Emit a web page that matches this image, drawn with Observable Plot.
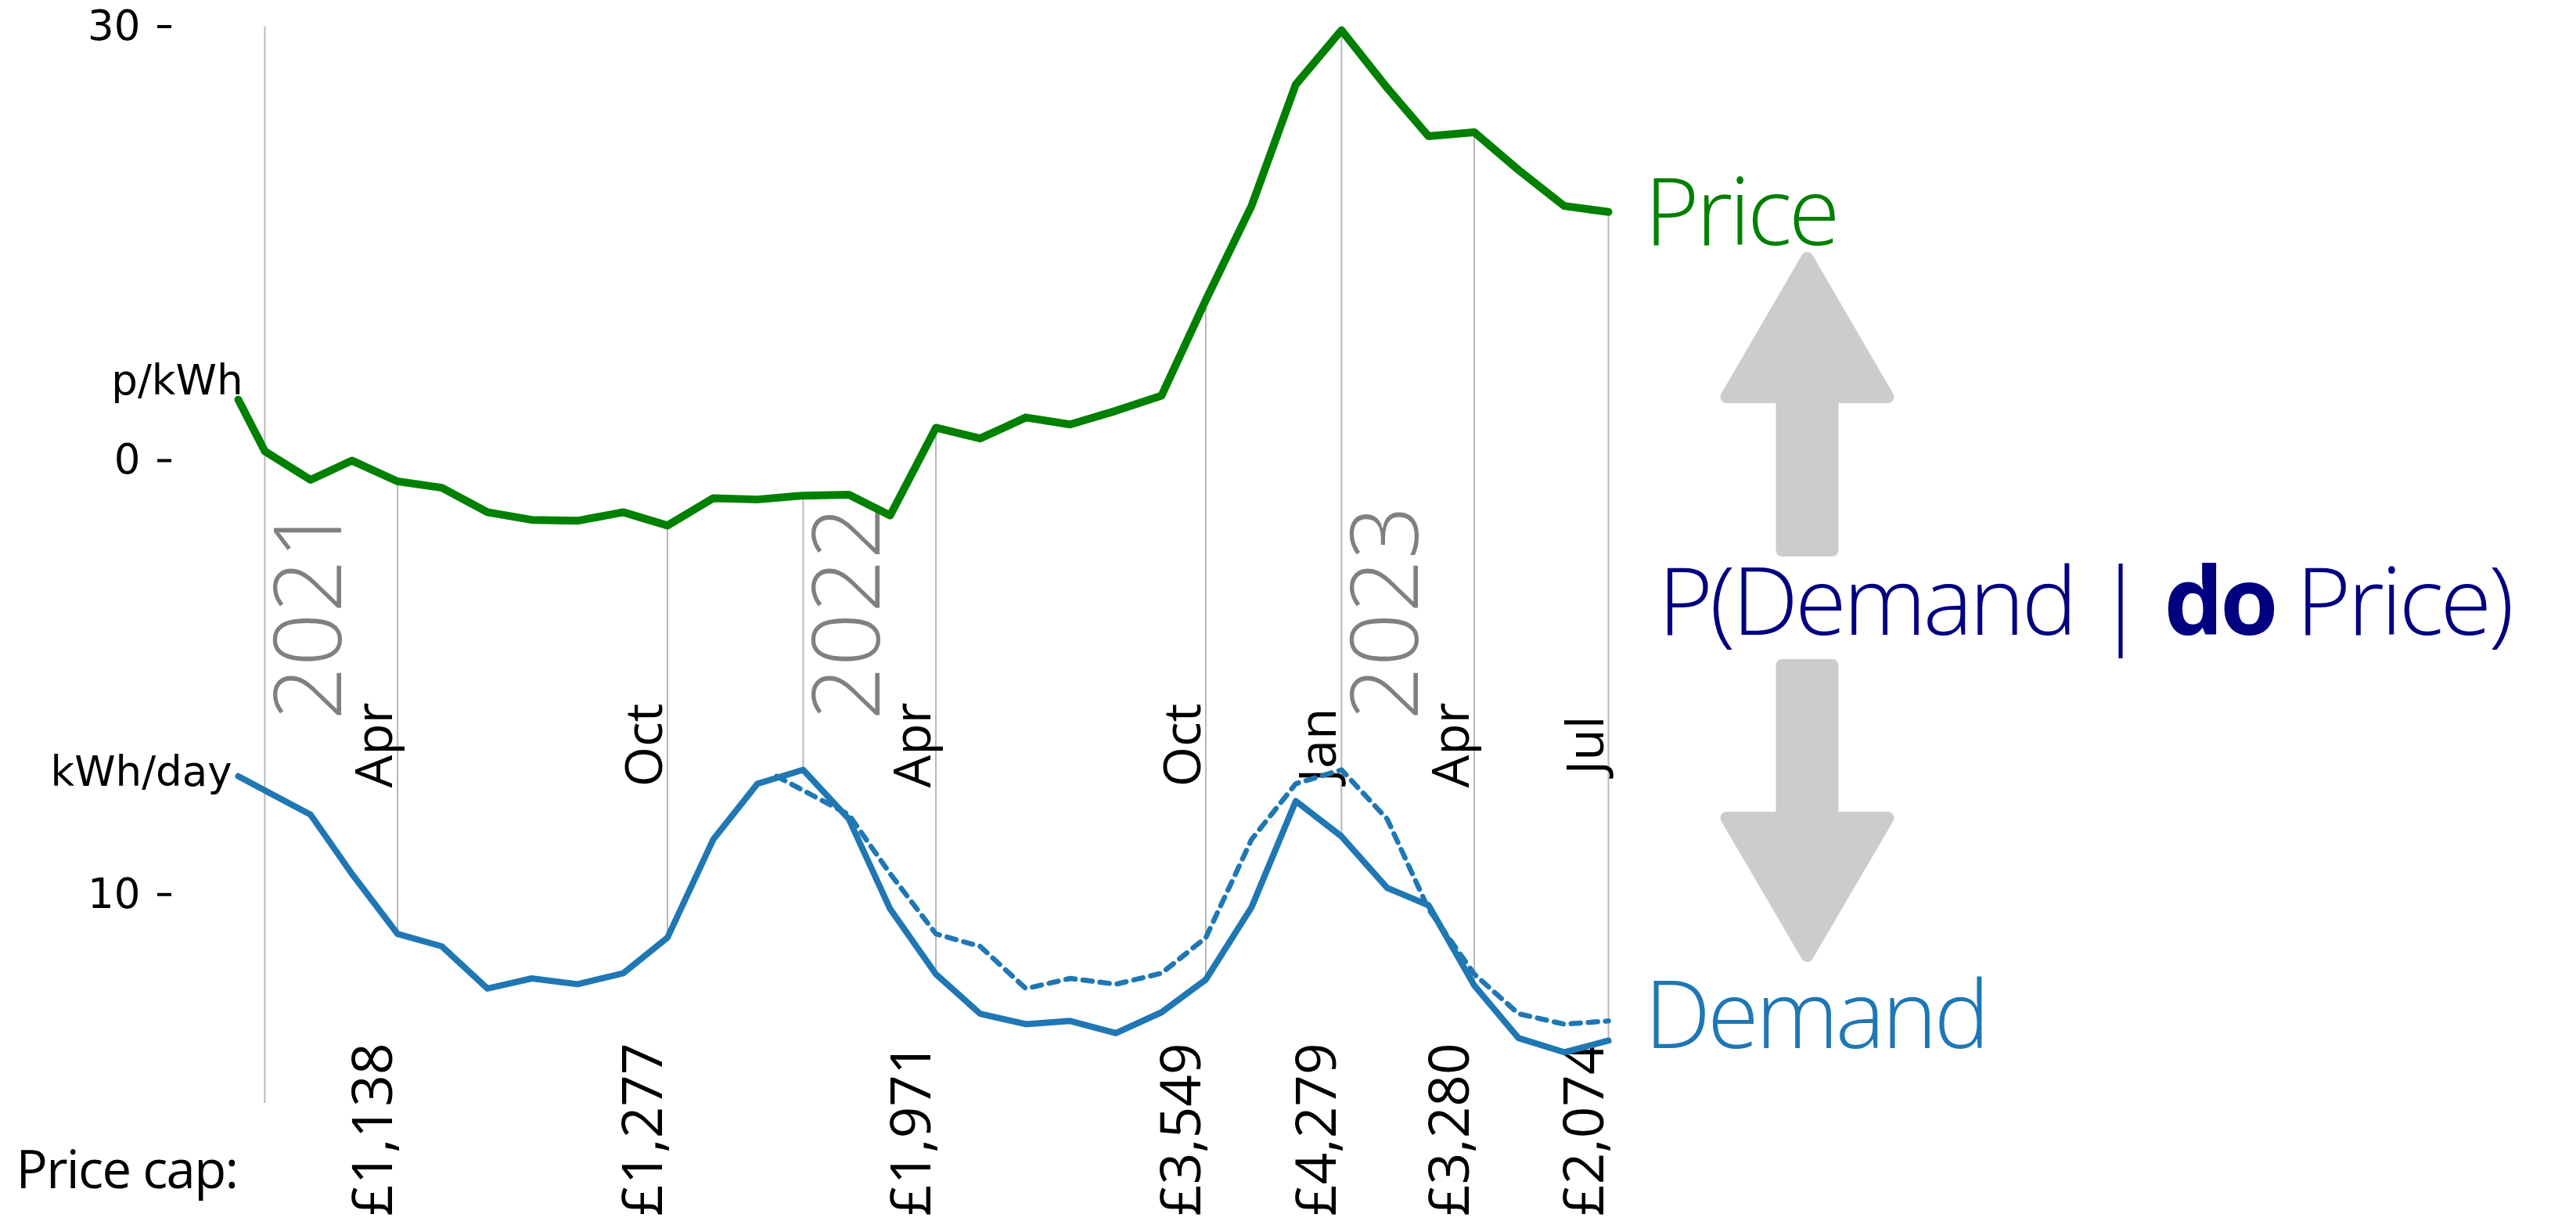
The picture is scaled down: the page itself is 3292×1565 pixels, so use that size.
<!DOCTYPE html>
<html>
<head>
<meta charset="utf-8">
<script src="https://cdn.jsdelivr.net/npm/d3@7"></script>
<script src="https://cdn.jsdelivr.net/npm/@observablehq/plot@0.6"></script>
<style>
  html, body { margin: 0; padding: 0; background: #fff; }
  #chart svg { display: block; }
</style>
</head>
<body>
<div id="chart"></div>
<script>
// ---- data ----
const dates = [
  "2020-12-14",
  "2021-01-01","2021-02-01","2021-03-01","2021-04-01","2021-05-01","2021-06-01",
  "2021-07-01","2021-08-01","2021-09-01","2021-10-01","2021-11-01","2021-12-01",
  "2022-01-01","2022-02-01","2022-03-01","2022-04-01","2022-05-01","2022-06-01",
  "2022-07-01","2022-08-01","2022-09-01","2022-10-01","2022-11-01","2022-12-01",
  "2023-01-01","2023-02-01","2023-03-01","2023-04-01","2023-05-01","2023-06-01","2023-07-01"
];
// price, p/kWh
const price = [
  4.22,
  0.65, -1.33, 0.0, -1.44, -1.88, -3.57, -4.1, -4.16, -3.57, -4.49, -2.6, -2.69,
  -2.42, -2.36, -3.79, 2.27, 1.53, 2.98, 2.5, 3.44, 4.49, 11.1, 17.6, 26.0,
  29.75, 25.76, 22.43, 22.7, 20.09, 17.6, 17.19
];
// demand, kWh/day
const demand = [
  14.09,
  13.60, 12.76, 10.72, 8.64, 8.21, 6.75, 7.10, 6.90, 7.28, 8.51, 11.90, 13.83,
  14.31, 12.61, 9.50, 7.25, 5.88, 5.52, 5.63, 5.21, 5.93, 7.06, 9.56, 13.23,
  12.01, 10.23, 9.63, 6.86, 5.04, 4.55, 4.95
];
const gridDates = ["2021-01-01","2021-04-01","2021-10-01","2022-01-01","2022-04-01","2022-10-01","2023-01-01","2023-04-01","2023-07-01"];
const capDates = ["2021-04-01","2021-10-01","2022-04-01","2022-10-01","2023-01-01","2023-04-01","2023-07-01"];
const capMonths = ["Apr","Oct","Apr","Oct","Jan","Apr","Jul"];
const capValues = ["£1,138","£1,277","£1,971","£3,549","£4,279","£3,280","£2,074"];
const yearDates = ["2021-01-01","2022-01-01","2023-01-01"];
const yearLabels = ["2021","2022","2023"];
const priceTicks = [30, 0];
const demandTicks = [10];
const lastDate = "2023-07-01";

// ---- build tables ----
const parse = d3.utcParse("%Y-%m-%d");
// demand is drawn on the shared vertical axis: 10 kWh/day sits 30 price-units below 0, 2 units per kWh/day
const demandPos = d => 2 * d - 50;
const rows = dates.map((d, i) => ({date: parse(d), price: price[i], demand: demand[i], dy: demandPos(demand[i])}));
const end = parse(lastDate);
const counterfactual = rows
  .map(r => ({date: d3.utcYear.offset(r.date, 1), dy: r.dy}))
  .filter(r => r.date <= end);
const byDate = new Map(rows.map(r => [+r.date, r]));
const grid = gridDates.map(parse);
const gridInner = grid.slice(1).map(d => ({date: d, y1: byDate.get(+d).price, y2: byDate.get(+d).dy}));
const caps = capDates.map((d, i) => ({date: parse(d), month: capMonths[i], cap: capValues[i]}));
const years = yearDates.map((d, i) => ({date: parse(d), label: yearLabels[i]}));
const tickLabel = new Map([...priceTicks.map(t => [t, String(t)]), ...demandTicks.map(t => [demandPos(t), String(t)])]);
const first = rows[0], last = rows[rows.length - 1];

const GREEN = "#008000", BLUE = "#1f77b4", NAVY = "#000080", GRID = "#b8b8b8";
const SANS = "Open Sans, Noto Sans, sans-serif";

const W = 3292, H = 1565;
const svg = Plot.plot({
  width: W, height: H,
  marginLeft: 219, marginRight: 1237, marginTop: 33.5, marginBottom: 156,
  style: {background: "white", fontFamily: SANS, overflow: "visible"},
  x: {type: "utc", domain: [parse("2020-12-14"), end], range: [304, 2055], axis: null},
  y: {domain: [-44.43, 30], range: [1409, 33.5], axis: null},
  marks: [
    Plot.axisY({ticks: [...tickLabel.keys()], tickFormat: d => tickLabel.get(d), tickSize: 18, tickPadding: 22,
      fontSize: 53, fontFamily: "DejaVu Sans", strokeWidth: 4, label: null}),
    // grid: full-height line at the start, others between the two series
    Plot.ruleX([grid[0]], {stroke: GRID, strokeWidth: 2}),
    Plot.ruleX(gridInner, {x: "date", y1: "y1", y2: "y2", stroke: GRID, strokeWidth: 2}),
    // year labels
    Plot.text(years, {x: "date", text: "label", rotate: -90, frameAnchor: "top", dy: 886, dx: 12,
      textAnchor: "start", lineAnchor: "top", fontSize: 120, fill: "#808080", fontFamily: SANS, fontWeight: 300}),
    // month labels
    Plot.text(caps, {x: "date", text: "month", rotate: -90, frameAnchor: "top", dy: 918, dx: -7,
      textAnchor: "middle", lineAnchor: "bottom", fontSize: 66, fill: "black", fontFamily: SANS}),
    // price cap labels
    Plot.text(caps, {x: "date", text: "cap", rotate: -90, frameAnchor: "bottom", dy: -77, dx: -7,
      textAnchor: "end", lineAnchor: "bottom", fontSize: 71, fill: "black", fontFamily: SANS}),
    Plot.text(["Price cap:"], {frameAnchor: "bottom-left", dx: -199, dy: 108, textAnchor: "start", lineAnchor: "bottom",
      fontSize: 67, fill: "black", fontFamily: SANS}),
    // series
    Plot.line(counterfactual, {x: "date", y: "dy", stroke: BLUE, strokeWidth: 6.5, strokeDasharray: "12,10"}),
    Plot.line(rows, {x: "date", y: "dy", stroke: BLUE, strokeWidth: 8, strokeLinejoin: "round"}),
    Plot.line(rows, {x: "date", y: "price", stroke: GREEN, strokeWidth: 10, strokeLinejoin: "round"}),
    // unit labels at series start
    Plot.text([first], {x: "date", y: "price", text: () => "p/kWh", textAnchor: "end", lineAnchor: "bottom",
      dx: 6, dy: -6, fontSize: 53, fontFamily: "DejaVu Sans", fill: "black"}),
    Plot.text([first], {x: "date", y: "dy", text: () => "kWh/day", textAnchor: "end", lineAnchor: "bottom",
      dx: -8, dy: 12, fontSize: 53, fontFamily: "DejaVu Sans", fill: "black"}),
    // series names at series end
    Plot.text([last], {x: "date", y: "price", text: () => "Price", textAnchor: "start", lineAnchor: "bottom",
      dx: 46, dy: 42, fontSize: 120, fontWeight: 300, fill: GREEN, fontFamily: SANS}),
    Plot.text([last], {x: "date", y: "dy", text: () => "Demand", textAnchor: "start", lineAnchor: "bottom",
      dx: 46, dy: 10, fontSize: 120, fontWeight: 300, fill: BLUE, fontFamily: SANS})
  ]
});
document.getElementById("chart").appendChild(svg);

const s = d3.select(svg);
s.selectAll("text").filter(function() { return /^(Price|Demand)$/.test(this.textContent); })
  .style("letter-spacing", "-0.035em");
s.selectAll("text").filter(function() { return this.textContent === "Price cap:"; })
  .style("letter-spacing", "-0.025em");

// double arrow annotation
const cx = 2309.5;
const arrowG = s.append("g").attr("fill", "#cccccc").attr("stroke", "#cccccc").attr("stroke-width", 16).attr("stroke-linejoin", "round");
arrowG.append("path").attr("d", `M${cx},330 L${cx + 103},507 L${cx + 32},507 L${cx + 32},703 L${cx - 32},703 L${cx - 32},507 L${cx - 103},507 Z`);
arrowG.append("path").attr("d", `M${cx},1221 L${cx + 103},1045 L${cx + 32},1045 L${cx + 32},850 L${cx - 32},850 L${cx - 32},1045 L${cx - 103},1045 Z`);

const t = s.append("text").attr("x", 2119).attr("y", 811).attr("fill", NAVY).attr("text-anchor", "start")
  .style("font-family", SANS).style("font-size", "120px").style("font-weight", 300).style("letter-spacing", "-0.035em");
t.append("tspan").text("P(Demand | ");
t.append("tspan").style("font-weight", 700).text("do");
t.append("tspan").text(" Price)");
</script>
</body>
</html>
